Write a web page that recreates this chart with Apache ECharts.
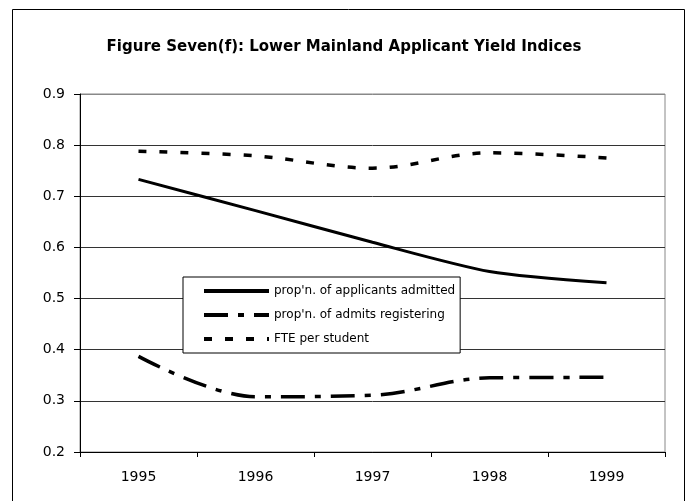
<!DOCTYPE html>
<html>
<head>
<meta charset="utf-8">
<title>Figure Seven(f)</title>
<script src="https://cdn.jsdelivr.net/npm/echarts@6/dist/echarts.min.js"></script>
<style>
  html, body { margin: 0; padding: 0; background: #fff; }
  #chart { width: 688px; height: 501px; }
</style>
</head>
<body>
<div id="chart"></div>
<script>
// 年份（横轴类别）
const years = ['1995', '1996', '1997', '1998', '1999'];
// 三条指标线
const admitted = [0.733, 0.672, 0.610, 0.553, 0.531];
const registering = [0.387, 0.308, 0.311, 0.345, 0.346];
const ftePerStudent = [0.788, 0.779, 0.755, 0.785, 0.775];
const seriesNames = ["prop'n. of applicants admitted", "prop'n. of admits registering", 'FTE per student'];

const chart = echarts.init(document.getElementById('chart'));

const font = 'DejaVu Sans, sans-serif';

const option = {
  animation: false,
  backgroundColor: '#fff',
  title: {
    text: 'Figure Seven(f): Lower Mainland Applicant Yield Indices',
    left: 'center',
    top: 35,
    textStyle: { fontFamily: font, fontSize: 15, fontWeight: 'bold', color: '#000' }
  },
  // 外框
  graphic: [{
    type: 'rect',
    shape: { x: 12.5, y: 9.5, width: 672, height: 510 },
    style: { fill: null, stroke: '#000', lineWidth: 1 },
    silent: true
  }],
  grid: {
    left: 80, right: 23, top: 94, bottom: 49,
    show: true, borderColor: '#888', borderWidth: 1
  },
  legend: {
    left: 183, top: 277,
    orient: 'vertical',
    backgroundColor: '#fff',
    borderColor: '#000', borderWidth: 1,
    padding: [8, 5, 8, 19],
    itemWidth: 65, itemHeight: 14, itemGap: 12,
    // 图例里不要圆点，只留线型（线宽默认会被压成2，这里手动加粗）
    itemStyle: { opacity: 0 },
    lineStyle: { width: 4 },
    textStyle: { fontFamily: font, fontSize: 12, color: '#000' },
    data: seriesNames
  },
  xAxis: {
    type: 'category',
    data: years,
    boundaryGap: true,
    axisLine: { lineStyle: { color: '#000', width: 1 } },
    axisTick: { show: true, length: 5, lineStyle: { color: '#000' } },
    axisLabel: { color: '#000', fontFamily: font, fontSize: 14, margin: 18 }
  },
  yAxis: {
    type: 'value',
    min: 0.2, max: 0.9, interval: 0.1,
    axisLine: { show: true, lineStyle: { color: '#000', width: 1 } },
    axisTick: { show: true, length: 6, lineStyle: { color: '#000' } },
    axisLabel: {
      color: '#000', fontFamily: font, fontSize: 14, margin: 15,
      formatter: v => v.toFixed(1)
    },
    splitLine: {
      lineStyle: { color: ['#000', '#333', '#333', '#333', '#333', '#333', '#333', '#888'], width: 1 }
    }
  },
  series: [
    {
      name: seriesNames[0], type: 'line', data: admitted,
      symbol: 'none', smooth: 0.25,
      lineStyle: { color: '#000', width: 3, type: 'solid' },
      itemStyle: { color: '#000' }
    },
    {
      name: seriesNames[1], type: 'line', data: registering,
      symbol: 'none', smooth: 0.35,
      lineStyle: { color: '#000', width: 3.5, type: [24, 10, 6, 10] },
      itemStyle: { color: '#000' }
    },
    {
      name: seriesNames[2], type: 'line', data: ftePerStudent,
      symbol: 'none', smooth: 0.35,
      lineStyle: { color: '#000', width: 3.5, type: [8, 13] },
      itemStyle: { color: '#000' }
    }
  ]
};

chart.setOption(option);
</script>
</body>
</html>
